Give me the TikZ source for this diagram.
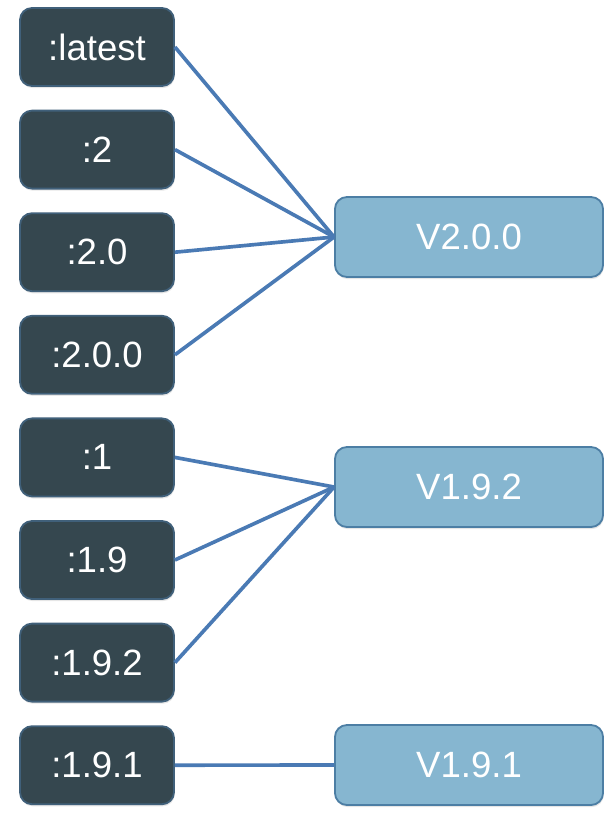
\documentclass[tikz,border=0pt]{standalone}
\usepackage{fontspec}
\setmainfont{Liberation Sans}
\usetikzlibrary{shadows}

\definecolor{tagfill}{HTML}{35474F}
\definecolor{tagline}{HTML}{40607A}
\definecolor{verfill}{HTML}{86B6D0}
\definecolor{verline}{HTML}{4C7EA4}
\definecolor{linkcol}{HTML}{4A7AB4}

\tikzset{
    tagbox/.style={draw=tagline, line width=1.3pt, fill=tagfill, rounded corners=0.3cm,
        minimum width=3.85cm, minimum height=1.95cm, text=white,
        font=\fontsize{26}{30}\selectfont,
        drop shadow={opacity=0.2, shadow xshift=0.5pt, shadow yshift=-1.5pt}},
    verbox/.style={draw=verline, line width=1.3pt, fill=verfill, rounded corners=0.3cm,
        minimum width=6.7cm, minimum height=2cm, text=white,
        font=\fontsize{26}{30}\selectfont,
        drop shadow={opacity=0.2, shadow xshift=0.5pt, shadow yshift=-1.5pt}},
    link/.style={draw=linkcol, line width=2.6pt}
}

\begin{document}
\begin{tikzpicture}[x=0.025cm, y=-0.025cm]
    \useasboundingbox (0,0) rectangle (615,822);

    % image tags
    \foreach \lbl [count=\i] in {:latest,:2,:2.0,:2.0.0,:1,:1.9,:1.9.2,:1.9.1} {
        \node[tagbox] (t\i) at (97, {47+102.6*(\i-1)}) {\lbl};
    }

    % versions
    \node[verbox] (v200) at (469, 237) {V2.0.0};
    \node[verbox] (v192) at (469, 487) {V1.9.2};
    \node[verbox] (v191) at (469, 765) {V1.9.1};

    \foreach \i in {1,...,4} {
        \draw[link] (t\i.east) -- (v200.west);
    }
    \foreach \i in {5,6,7} {
        \draw[link] (t\i.east) -- (v192.west);
    }
    \draw[link] (t8.east) -- (v191.west);
\end{tikzpicture}
\end{document}
